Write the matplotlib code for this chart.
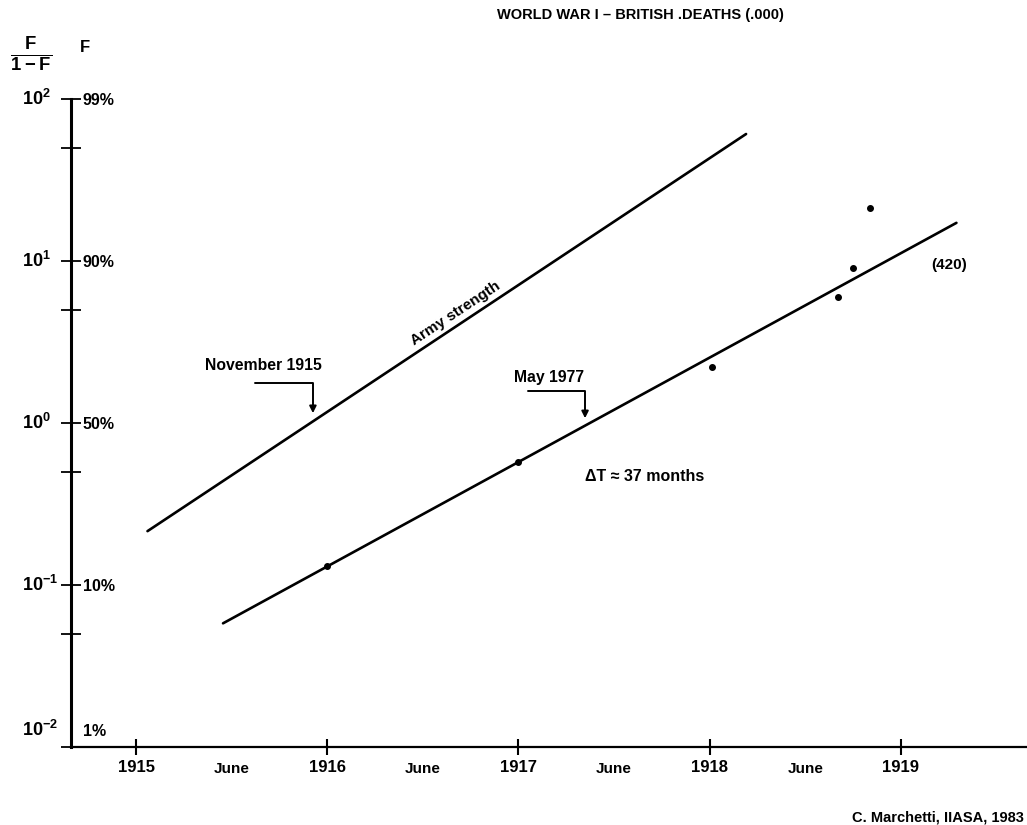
import matplotlib
matplotlib.use("Agg")
import matplotlib.pyplot as plt

plt.rcParams["font.family"] = ["Liberation Sans", "DejaVu Sans"]
plt.rcParams["font.weight"] = "bold"
plt.rcParams["mathtext.default"] = "regular"

# data (fraction ratio F/(1-F) against calendar year)
army_years = [1915.06, 1918.19]
army_ratio = [0.215, 60.8]
fit_years = [1915.455, 1919.29]
fit_ratio = [0.058, 17.2]
death_years = [1916.00, 1917.00, 1918.01, 1918.67, 1918.75, 1918.84]
death_ratio = [0.131, 0.574, 2.22, 6.0, 9.06, 21.2]

year_ticks = [1915, 1916, 1917, 1918, 1919]
june_ticks = [1915.5, 1916.5, 1917.5, 1918.5]
ratio_ticks = [1e-2, 1e-1, 1e0, 1e1, 1e2]
ratio_labels = ["$10^{-2}$", "$10^{-1}$", "$10^{0}$", "$10^{1}$", "$10^{2}$"]
pct_labels = ["1%", "10%", "50%", "90%", "99%"]
half_ticks = [5e-2, 5e-1, 5e0, 5e1]

W, H = 1027, 825
fig = plt.figure(figsize=(W / 100, H / 100), dpi=100)
ax = fig.add_axes([71 / W, 78 / H, (W - 71) / W, (747 - 99) / H])
ax.set_yscale("log")
ax.set_xlim(1914.66, 1919.659)
ax.set_ylim(1e-2, 1e2)

for s in ["top", "right"]:
    ax.spines[s].set_visible(False)
ax.spines["left"].set_linewidth(2.2)
ax.spines["bottom"].set_linewidth(1.6)

ax.set_xticks(year_ticks)
ax.set_xticklabels([str(y) for y in year_ticks])
ax.set_xticks(june_ticks, minor=True)
ax.set_xticklabels(["June"] * len(june_ticks), minor=True)
ax.tick_params(axis="x", which="major", direction="inout", length=12, width=1.5,
               labelsize=12, pad=3)
ax.tick_params(axis="x", which="minor", length=0, labelsize=11, pad=11)

ax.set_yticks(ratio_ticks + half_ticks)
ax.yaxis.set_minor_locator(matplotlib.ticker.NullLocator())
ax.tick_params(axis="y", direction="inout", length=14, width=1.3, labelleft=False)

# left and right labels of the probability axis
for val, lab, pl in zip(ratio_ticks, ratio_labels, pct_labels):
    dy = 12 if val == 1e-2 else 0
    ax.annotate(lab, xy=(22 / W, val), xycoords=("figure fraction", "data"),
                xytext=(0, dy), textcoords="offset points",
                ha="left", va="center", fontsize=13,
                annotation_clip=False)
    ax.annotate(pl, xy=(0, val), xycoords=("axes fraction", "data"),
                xytext=(8.5, dy - 1), textcoords="offset points",
                ha="left", va="center", fontsize=11.5, annotation_clip=False)

fig.text(31 / W, 1 - 55 / H, r"$\frac{F}{1-F}$", ha="center", va="center", fontsize=19)
fig.text(80 / W, 1 - 48 / H, "F", ha="left", va="center", fontsize=12)

ax.plot(army_years, army_ratio, color="black", lw=1.9, solid_capstyle="round")
ax.plot(fit_years, fit_ratio, color="black", lw=1.9, solid_capstyle="round")
ax.plot(death_years, death_ratio, "o", color="black", ms=4)

ax.text(1916.673, 4.77, "Army strength", rotation=33.5, ha="center", va="center",
        fontsize=11, rotation_mode="anchor")
ax.text(1919.25, 9.4, "(420)", ha="center", va="center", fontsize=11)
ax.text(1917.66, 0.47, "\u0394T \u2248 37 months", ha="center", va="center", fontsize=11.5)

arrow = dict(arrowstyle="-|>", color="black", lw=1.4, mutation_scale=10,
             connectionstyle="angle,angleA=0,angleB=90,rad=0", shrinkA=0, shrinkB=0)
ax.annotate("", xy=(1915.925, 1.15), xytext=(1915.62, 1.77), arrowprops=arrow)
ax.text(1915.664, 2.28, "November 1915", ha="center", va="center", fontsize=11.3)
ax.annotate("", xy=(1917.348, 1.07), xytext=(1917.05, 1.58), arrowprops=arrow)
ax.text(1917.16, 1.92, "May 1977", ha="center", va="center", fontsize=11.3)

fig.text(640 / W, 1 - 15 / H, "WORLD WAR I \u2013 BRITISH .DEATHS (.000)",
         ha="center", va="center", fontsize=10.5)
fig.text(1024 / W, 1 - 817 / H, "C. Marchetti, IIASA, 1983", ha="right", va="center",
         fontsize=10.5)

fig.savefig("out.png", dpi=100)
